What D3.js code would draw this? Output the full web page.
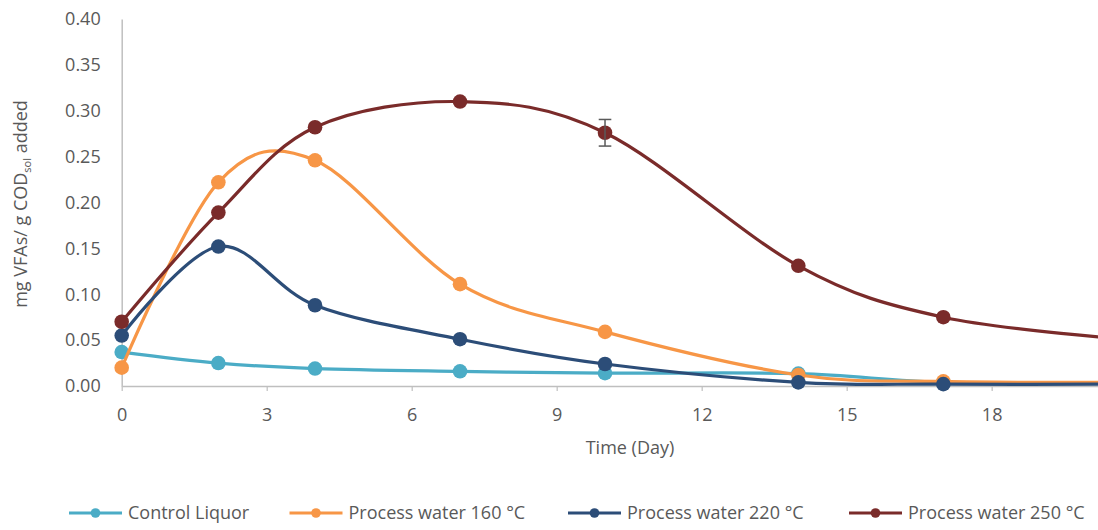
<!DOCTYPE html>
<html>
<head>
<meta charset="utf-8">
<script src="https://cdn.jsdelivr.net/npm/d3@7"></script>
<style>
  html, body { margin: 0; padding: 0; background: #fff; }
  svg { display: block; font-family: "Open Sans", sans-serif; }
</style>
</head>
<body>
<svg id="chart" width="1098" height="530"></svg>
<script>
// Sampling days
const days = [0, 2, 4, 7, 10, 14, 17, 21];

// VFA yield per series (mg VFAs / g COD_sol added)
const controlLiquor = [0.037, 0.025, 0.019, 0.016, 0.014, 0.0135, 0.004, 0.003];
const pw160 = [0.020, 0.222, 0.246, 0.111, 0.059, 0.012, 0.005, 0.004];
const pw220 = [0.055, 0.152, 0.088, 0.051, 0.024, 0.004, 0.002, 0.002];
const pw250 = [0.070, 0.189, 0.282, 0.310, 0.276, 0.131, 0.075, 0.050];

// Standard deviation on the 250 °C series (only the day-10 bar is noticeable)
const pw250Err = [0, 0, 0, 0, 0.0145, 0, 0, 0];

const seriesNames = ["Control Liquor", "Process water 160 °C", "Process water 220 °C", "Process water 250 °C"];
const seriesColors = ["#4BACC6", "#F79646", "#2C4D78", "#7A2B2A"];

const xTicks = [0, 3, 6, 9, 12, 15, 18];
const yTicks = [0, 0.05, 0.10, 0.15, 0.20, 0.25, 0.30, 0.35, 0.40];

const seriesValues = [controlLiquor, pw160, pw220, pw250];
const seriesErrors = [null, null, null, pw250Err];

const svg = d3.select("#chart");
const textColor = "#595959";
const axisColor = "#BFBFBF";

const x = d3.scaleLinear().domain([0, 20.2]).range([121.7, 1098]);
const y = d3.scaleLinear().domain([0, 0.40]).range([386, 19]);

// Axes
const xAxis = svg.append("g")
  .attr("transform", `translate(0,${y(0)})`)
  .call(d3.axisBottom(x).tickValues(xTicks).tickFormat(d3.format("d")).tickSize(5).tickPadding(17).tickSizeOuter(0));
xAxis.select(".domain").attr("stroke", axisColor).attr("stroke-width", 1.5);
xAxis.selectAll(".tick line").attr("stroke", axisColor).attr("stroke-width", 1.2);
xAxis.selectAll(".tick text").attr("fill", textColor).style("font-size", "18px").style("font-family", "'Open Sans', sans-serif");

const yAxis = svg.append("g")
  .attr("transform", `translate(${x(0)},0)`)
  .call(d3.axisLeft(y).tickValues(yTicks).tickFormat(d3.format(".2f")).tickSize(0).tickPadding(21).tickSizeOuter(0));
yAxis.select(".domain").attr("stroke", axisColor).attr("stroke-width", 1.5);
yAxis.selectAll(".tick text").attr("fill", textColor).style("font-size", "18px").style("font-family", "'Open Sans', sans-serif");

// Axis titles
svg.append("text")
  .attr("x", 630).attr("y", 454)
  .attr("text-anchor", "middle")
  .attr("fill", textColor)
  .style("font-size", "18px")
  .text("Time (Day)");

const yTitle = svg.append("text")
  .attr("transform", "translate(26.5,204) rotate(-90)")
  .attr("text-anchor", "middle")
  .attr("fill", textColor)
  .style("font-size", "18px");
yTitle.append("tspan").text("mg VFAs/ g COD");
yTitle.append("tspan").attr("dy", 4).style("font-size", "11px").text("sol");
yTitle.append("tspan").attr("dy", -4).text(" added");

// Smoothed lines and markers
const line = d3.line()
  .x(d => x(d.day))
  .y(d => y(d.v))
  .curve(d3.curveCatmullRom.alpha(0));

seriesValues.forEach((vals, i) => {
  const pts = days.map((day, k) => ({ day, v: vals[k], err: seriesErrors[i] ? seriesErrors[i][k] : 0 }));
  const g = svg.append("g");
  g.append("path")
    .datum(pts)
    .attr("d", line)
    .attr("fill", "none")
    .attr("stroke", seriesColors[i])
    .attr("stroke-width", 3.2)
    .attr("stroke-linecap", "round");
  g.selectAll("circle")
    .data(pts.filter(p => x(p.day) <= 1098))
    .join("circle")
    .attr("cx", d => x(d.day))
    .attr("cy", d => y(d.v))
    .attr("r", 7.3)
    .attr("fill", seriesColors[i]);

  const eb = pts.filter(p => p.err > 0);
  eb.forEach(p => {
    const cx = x(p.day), y1 = y(p.v + p.err), y2 = y(p.v - p.err);
    g.append("line").attr("x1", cx).attr("x2", cx).attr("y1", y1).attr("y2", y2)
      .attr("stroke", "#5A5A5A").attr("stroke-width", 1.5);
    [y1, y2].forEach(yy => g.append("line")
      .attr("x1", cx - 6.3).attr("x2", cx + 6.3).attr("y1", yy).attr("y2", yy)
      .attr("stroke", "#5A5A5A").attr("stroke-width", 1.5));
  });
});

// Legend
const legendX = [69, 289.5, 568, 849];
const legend = svg.append("g");
seriesNames.forEach((name, i) => {
  const lg = legend.append("g").attr("transform", `translate(${legendX[i]},513)`);
  lg.append("line").attr("x1", 0).attr("x2", 53).attr("y1", 0).attr("y2", 0)
    .attr("stroke", seriesColors[i]).attr("stroke-width", 3.2);
  lg.append("circle").attr("cx", 26.5).attr("cy", 0).attr("r", 4.8).attr("fill", seriesColors[i]);
  lg.append("text").attr("x", 59).attr("y", 0).attr("dy", "0.36em")
    .attr("fill", textColor).style("font-size", "18px").text(name);
});
</script>
</body>
</html>
